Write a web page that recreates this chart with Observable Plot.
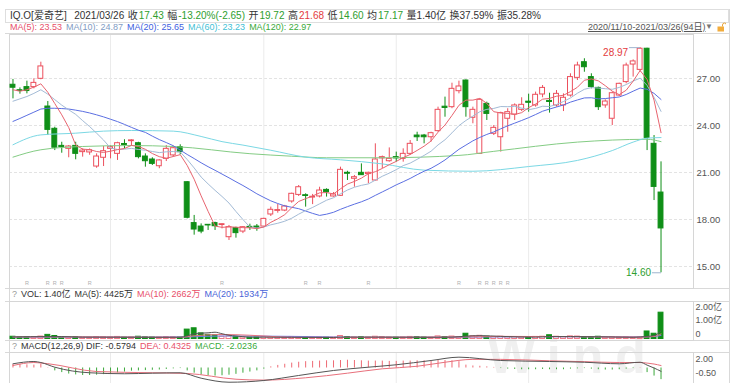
<!DOCTYPE html>
<html><head><meta charset="utf-8">
<script src="https://cdn.jsdelivr.net/npm/d3@7"></script>
<script src="https://cdn.jsdelivr.net/npm/@observablehq/plot@0.6"></script>
<style>
html,body{margin:0;padding:0;background:#fff;}
#root{position:relative;width:736px;height:383px;overflow:hidden;font-family:"Liberation Sans","Noto Sans CJK SC",sans-serif;font-size:9px;color:#333;}
.abs{position:absolute;white-space:nowrap;}
.row{position:absolute;display:flex;gap:4px;white-space:nowrap;}
.hl{position:absolute;height:1px;background:#d9d9d9;}
.vl{position:absolute;width:1px;background:#d9d9d9;}
svg{position:absolute;left:0;z-index:1;}
.v{margin-left:1px;}
</style></head><body><div id="root"></div>
<script>
// ---------- DATA ----------
const dates = ["2020-11-10","2020-11-11","2020-11-12","2020-11-13","2020-11-16","2020-11-17","2020-11-18","2020-11-19","2020-11-20","2020-11-23","2020-11-24","2020-11-25","2020-11-27","2020-11-30",
"2020-12-01","2020-12-02","2020-12-03","2020-12-04","2020-12-07","2020-12-08","2020-12-09","2020-12-10","2020-12-11","2020-12-14","2020-12-15","2020-12-16","2020-12-17","2020-12-18","2020-12-21","2020-12-22","2020-12-23","2020-12-24","2020-12-28","2020-12-29","2020-12-30","2020-12-31",
"2021-01-04","2021-01-05","2021-01-06","2021-01-07","2021-01-08","2021-01-11","2021-01-12","2021-01-13","2021-01-14","2021-01-15","2021-01-19","2021-01-20","2021-01-21","2021-01-22","2021-01-25","2021-01-26","2021-01-27","2021-01-28","2021-01-29",
"2021-02-01","2021-02-02","2021-02-03","2021-02-04","2021-02-05","2021-02-08","2021-02-09","2021-02-10","2021-02-11","2021-02-12","2021-02-16","2021-02-17","2021-02-18","2021-02-19","2021-02-22","2021-02-23","2021-02-24","2021-02-25","2021-02-26",
"2021-03-01","2021-03-02","2021-03-03","2021-03-04","2021-03-05","2021-03-08","2021-03-09","2021-03-10","2021-03-11","2021-03-12","2021-03-15","2021-03-16","2021-03-17","2021-03-18","2021-03-19","2021-03-22","2021-03-23","2021-03-24","2021-03-25","2021-03-26"];

const open = [26.60,26.25,26.45,26.45,26.98,25.21,23.79,22.70,22.51,22.70, 22.30,22.28,21.38,21.94,22.51,22.19,22.82,23.00,22.87,22.02, 21.83,21.40,21.87,22.09,22.62,20.38,17.77,17.55,17.66,17.77, 17.65,16.87,17.45,17.23,17.53,17.55,17.55,18.32,18.55,18.57, 19.15,19.57,19.55,19.40,19.47,19.89,19.47,19.51,20.98,20.60, 20.98,20.90,20.49,21.90,21.72,21.98,21.87,22.19,23.36,23.36, 23.25,23.64,25.20,25.17,26.19,26.87,24.49,22.19,25.38,23.47, 23.25,24.43,24.70,25.00,25.52,25.28,25.98,25.57,25.28,25.28, 25.91,27.04,28.04,27.09,26.40,25.28,24.43,25.91,26.77,27.89, 27.55,28.90,22.83,19.72];
const high = [26.94,26.40,26.83,26.98,28.04,25.53,23.89,22.93,22.72,22.93, 22.51,22.50,22.19,22.66,22.72,22.93,23.09,23.09,22.93,22.19, 21.94,21.81,22.72,22.68,22.77,20.42,18.26,17.72,17.68,17.83, 17.72,17.62,17.51,17.55,17.70,17.68,18.08,18.79,18.96,18.90, 19.68,20.17,19.64,19.60,20.06,19.96,19.72,21.34,21.08,20.81, 21.55,21.02,22.83,22.05,22.57,22.30,22.51,23.04,23.57,23.43, 23.57,25.17,25.81,26.70,26.83,26.91,25.17,25.70,25.49,24.00, 24.85,25.07,25.38,25.77,26.00,26.13,26.55,26.06,26.23,26.02, 27.30,28.04,28.26,27.30,26.45,25.64,26.13,26.70,27.98,28.19, 28.97,28.93,23.36,21.68];
const low = [25.70,26.00,26.02,26.34,26.92,23.36,22.40,22.23,21.94,21.81, 21.98,22.10,21.27,21.38,21.87,21.77,22.51,22.66,21.87,21.34, 21.45,21.24,21.70,21.98,22.13,18.04,17.00,17.09,17.30,17.30, 17.40,16.66,16.81,17.10,17.30,17.25,17.50,18.19,18.40,18.50, 19.04,19.47,18.79,18.95,19.38,19.43,19.43,19.47,20.49,20.06, 20.81,20.28,20.45,21.25,21.66,21.66,21.66,22.09,22.98,22.83, 22.94,23.57,24.53,25.07,26.02,24.53,24.11,22.15,24.32,23.36, 22.30,23.57,24.32,24.89,24.85,25.17,25.77,24.79,25.17,24.89, 25.81,26.87,27.40,26.34,24.96,25.10,24.00,25.85,26.66,27.09, 27.40,22.40,19.21,14.60];
const close = [26.41,26.20,26.20,26.72,27.77,23.72,22.58,22.62,22.66,22.19, 22.40,22.42,22.02,22.36,22.62,22.87,22.76,23.05,21.98,21.72, 21.55,21.77,22.51,22.55,22.30,18.11,17.36,17.23,17.62,17.57, 17.70,17.51,17.13,17.51,17.48,17.45,18.04,18.62,18.60,18.83, 19.64,20.06,19.50,19.45,19.85,19.74,19.60,21.17,20.92,20.70, 20.83,20.98,21.83,21.98,21.87,21.90,22.19,22.83,23.25,23.25, 23.51,25.00,25.12,26.34,26.49,25.17,25.00,25.64,24.74,23.85, 24.79,24.85,25.28,25.32,25.45,25.96,26.40,25.50,26.02,25.77, 27.09,27.83,27.72,26.45,25.17,25.53,26.06,26.66,27.83,28.09, 28.90,23.21,20.08,17.43];
// volume, 亿 shares
const volume = [0.12,0.09,0.10,0.09,0.13,0.22,0.16,0.08,0.09,0.10, 0.07,0.07,0.10,0.09,0.08,0.11,0.07,0.08,0.12,0.09, 0.08,0.08,0.10,0.09,0.08,0.50,0.57,0.30,0.22,0.20, 0.12,0.14,0.10,0.08,0.07,0.08,0.10,0.09,0.08,0.07, 0.10,0.09,0.08,0.07,0.08,0.07,0.06,0.16,0.10,0.08, 0.09,0.08,0.12,0.10,0.08,0.07,0.08,0.11,0.10,0.08, 0.07,0.14,0.10,0.13,0.10,0.28,0.15,0.17,0.12,0.10, 0.12,0.09,0.10,0.08,0.09,0.11,0.12,0.20,0.12,0.10, 0.14,0.13,0.10,0.10,0.12,0.08,0.10,0.08,0.09,0.07, 0.08,0.40,0.28,1.40];

const ma5 = [26.28,26.19,26.28,26.45,26.66,26.12,25.40,24.68,23.87,22.75, 22.49,22.46,22.34,22.28,22.36,22.46,22.53,22.73,22.66,22.48, 22.21,22.01,21.91,22.02,22.14,21.45,20.57,19.51,18.52,17.58, 17.50,17.53,17.51,17.48,17.47,17.42,17.52,17.82,18.04,18.31, 18.75,19.15,19.33,19.50,19.70,19.72,19.63,19.96,20.26,20.43, 20.64,20.92,21.05,21.26,21.50,21.71,21.95,22.15,22.41,22.68, 23.01,23.57,24.03,24.64,25.29,25.62,25.62,25.73,25.41,24.88, 24.80,24.77,24.70,24.82,25.14,25.37,25.68,25.73,25.87,25.93, 26.16,26.44,26.89,26.97,26.85,26.54,26.19,25.97,26.25,26.83, 27.51,26.94,25.62,23.54];
const ma10 = [25.55,25.70,25.85,26.05,26.28,26.00,25.65,25.30,25.00,24.71, 24.31,23.93,23.51,23.07,22.56,22.47,22.49,22.54,22.47,22.42, 22.34,22.27,22.32,22.34,22.31,21.83,21.29,20.71,20.27,19.86, 19.47,19.05,18.51,18.00,17.52,17.46,17.52,17.66,17.76,17.89, 18.08,18.34,18.57,18.77,19.00,19.23,19.39,19.64,19.88,20.06, 20.18,20.27,20.51,20.76,20.96,21.18,21.44,21.60,21.84,22.09, 22.36,22.76,23.09,23.53,23.99,24.32,24.60,24.88,25.03,25.09, 25.21,25.20,25.22,25.11,25.01,25.09,25.23,25.21,25.34,25.53, 25.76,26.06,26.31,26.42,26.39,26.35,26.31,26.43,26.61,26.84, 27.02,26.56,25.80,24.90];
const ma20 = [24.26,24.45,24.65,24.85,25.05,25.10,25.10,25.08,25.05,24.98, 24.90,24.80,24.68,24.55,24.40,24.25,24.07,23.88,23.70,23.56, 23.32,23.10,22.91,22.71,22.43,22.15,21.89,21.62,21.37,21.14, 20.90,20.66,20.41,20.17,19.91,19.64,19.41,19.19,19.02,18.87, 18.78,18.69,18.54,18.39,18.26,18.34,18.46,18.65,18.82,18.98, 19.13,19.31,19.54,19.76,19.98,20.21,20.41,20.62,20.86,21.08, 21.27,21.52,21.80,22.14,22.48,22.75,23.02,23.24,23.43,23.59, 23.79,23.98,24.15,24.32,24.50,24.70,24.91,25.05,25.18,25.31, 25.49,25.63,25.76,25.77,25.70,25.72,25.77,25.82,25.98,26.19, 26.39,26.31,26.05,25.66];
// [day index, value] read along the smooth long averages
const ma60 = [[0,22.77],[4,23.40],[9,23.51],[13,23.64],[17,23.68],[23,23.64],[27,23.30],[30,22.97],[33,22.75],[37,22.42],[42,21.98],[47,21.81],[53,21.55],[59,21.15],[66,21.08],[74,21.38],[81,21.77],[86,22.40],[89,22.94],[91,23.19],[93,23.23]];
const ma120 = [[0,21.98],[4,22.45],[10,22.66],[17,22.72],[23,22.66],[34,22.20],[40,22.04],[45,21.94],[53,21.94],[64,22.09],[69,22.35],[81,22.94],[91,23.12],[93,22.97]];
const volMa5 = [[0,0.11],[5,0.13],[7,0.13],[10,0.10],[20,0.09],[24,0.09],[25,0.17],[26,0.27],[27,0.31],[28,0.33],[29,0.36],[30,0.28],[31,0.20],[32,0.16],[34,0.10],[40,0.09],[46,0.08],[47,0.10],[52,0.10],[60,0.09],[63,0.10],[65,0.15],[67,0.18],[70,0.14],[75,0.10],[77,0.13],[80,0.13],[84,0.12],[89,0.09],[91,0.14],[92,0.18],[93,0.44]];
const volMa10 = [[0,0.11],[10,0.11],[24,0.09],[26,0.17],[30,0.24],[34,0.20],[36,0.16],[40,0.09],[50,0.09],[65,0.11],[70,0.14],[77,0.13],[85,0.11],[90,0.10],[92,0.14],[93,0.27]];
const volMa20 = [[0,0.10],[20,0.10],[25,0.11],[30,0.16],[40,0.14],[46,0.11],[50,0.09],[65,0.10],[75,0.12],[90,0.11],[92,0.13],[93,0.19]];
const macdHist = [0.6,0.6,0.55,0.5,0.7,0.05,-0.5,-0.8,-1.05,-1.2, -1.3,-1.3,-1.25,-1.15,-1.0,-0.85,-0.7,-0.55,-0.5,-0.45, -0.4,-0.35,-0.25,-0.15,-0.1,-0.5,-0.9,-1.2,-1.35,-1.4, -1.35,-1.25,-1.1,-0.9,-0.7,-0.5,-0.2,0.2,0.45,0.65, 0.85,1.0,1.1,1.15,1.2,1.25,1.25,1.3,1.35,1.3, 1.25,1.2,1.2,1.2,1.15,1.15,1.2,1.2,1.25,1.25, 1.2,1.3,1.3,1.25,1.1,0.5,0.35,0.3,0.2,0.1, -0.1,-0.2,-0.25,-0.3,-0.3,-0.3,-0.25,-0.3,-0.3,-0.3, -0.2,-0.15,-0.1,-0.2,-0.3,-0.35,-0.35,-0.3,-0.2,-0.1, 0.05,-0.8,-1.4,-2.02];
const dif = [[0,0.73],[3,1.13],[4,0.95],[6,0.14],[11,-0.83],[16,-1.0],[20,-0.9],[24,-0.83],[27,-1.77],[31,-2.47],[36,-2.17],[41,-1.30],[46,-0.43],[51,0.14],[55,0.56],[60,1.30],[64,1.88],[70,1.30],[77,1.13],[82,1.0],[87,0.73],[90,1.0],[91,0.5],[92,0.0],[93,-0.58]];
const dea = [[0,0.43],[3,0.95],[5,0.75],[12,-0.61],[20,-0.83],[25,-0.95],[32,-1.95],[36,-2.1],[42,-1.7],[48,-0.9],[53,-0.14],[58,0.3],[62,1.0],[66,1.5],[70,1.5],[77,1.25],[82,1.1],[87,0.95],[90,0.95],[91,0.85],[92,0.69],[93,0.43]];
const rMarks = [2,5,6,7,11,30,42,44,51,64,67,68,69,70,71];
const priceTicks = [15,18,21,24,27];
const volTicks = [2,1,0];
const macdTicks = [2,-0.5];

// ---------- LAYOUT / STYLE ----------
const FONT = '"Liberation Sans","Noto Sans CJK SC",sans-serif';
const RED = "#ec4f5c", GREEN = "#0f8f17", TXTGREEN = "#2e9e2e", TXTRED = "#e33b40";
const C5 = "#e8646f", C10 = "#a3bbd6", C20 = "#5b6fe2", C60 = "#7bd8e4", C120 = "#84cc84";
const XDOM = [-0.5, 97.66];
const HW = 0.35;
const root = document.getElementById("root");

const candles = dates.map((date, i) => ({i, date, o: open[i], h: high[i], l: low[i], c: close[i], v: volume[i], up: close[i] > open[i]}));
const ups = candles.filter(d => d.up), downs = candles.filter(d => !d.up);
const monthStarts = dates.map((d, i) => i).filter(i => i > 0 && dates[i].slice(0, 7) !== dates[i - 1].slice(0, 7));
const ser = arr => arr.map((v, i) => ({i, v}));
const hiI = d3.maxIndex(high), loI = d3.minIndex(low);

function panel(h, ydom, marks) {
  return Plot.plot({
    width: 736, height: h, marginLeft: 9, marginRight: 43, marginTop: 0, marginBottom: 0,
    x: {domain: XDOM, axis: null}, y: {domain: ydom, axis: null},
    style: {background: "transparent", fontFamily: FONT, color: "#555", overflow: "visible"},
    marks
  });
}
const grid = () => Plot.ruleX(monthStarts, {x: d => d, stroke: "#ebebeb"});

// main price panel
const main = panel(254, [13.596, 29.808], [
  Plot.ruleY(priceTicks, {y: d => d, stroke: "#e3e3e3", strokeDasharray: "3,2"}),
  grid(),
  Plot.frame({stroke: "#d6d6d6"}),
  Plot.ruleX(ups, {x: "i", y1: "l", y2: "h", stroke: RED}),
  Plot.ruleX(downs, {x: "i", y1: "l", y2: "h", stroke: GREEN}),
  Plot.rect(ups, {x1: d => d.i - HW, x2: d => d.i + HW, y1: "o", y2: "c", fill: "#fff", stroke: RED}),
  Plot.rect(downs, {x1: d => d.i - HW, x2: d => d.i + HW, y1: "o", y2: "c", fill: GREEN, stroke: GREEN}),
  Plot.line(ma120, {x: d => d[0], y: d => d[1], stroke: C120, strokeWidth: 1, curve: "monotone-x"}),
  Plot.line(ma60, {x: d => d[0], y: d => d[1], stroke: C60, strokeWidth: 1, curve: "monotone-x"}),
  Plot.line(ser(ma20), {x: "i", y: "v", stroke: C20, strokeWidth: 1}),
  Plot.line(ser(ma10), {x: "i", y: "v", stroke: C10, strokeWidth: 1}),
  Plot.line(ser(ma5), {x: "i", y: "v", stroke: C5, strokeWidth: 1}),
  Plot.link([{i: hiI, v: high[hiI]}], {x1: d => d.i - 1.6, x2: "i", y1: "v", y2: "v", stroke: "#9fb4cf"}),
  Plot.text([{i: hiI, v: high[hiI]}], {x: "i", y: "v", text: d => d.v.toFixed(2), textAnchor: "end", dx: -12, dy: 5, fill: TXTRED, fontSize: 10}),
  Plot.link([{i: loI, v: low[loI]}], {x1: d => d.i - 1.3, x2: "i", y1: "v", y2: "v", stroke: "#9fb4cf"}),
  Plot.text([{i: loI, v: low[loI]}], {x: "i", y: "v", text: d => d.v.toFixed(2), textAnchor: "end", dx: -10, dy: 0, fill: TXTGREEN, fontSize: 10}),
  Plot.text(rMarks, {x: d => d, frameAnchor: "bottom", dy: -4, text: () => "R", fontSize: 5.5, fill: "#b0b0b0"}),
  Plot.axisY(priceTicks, {anchor: "right", tickSize: 0, tickPadding: 3, tickFormat: d3.format(".2f"), fontSize: 9.5})
]);
main.style.top = "34px";

// volume panel
const vol = panel(39, [-0.0798, 1.9947], [
  grid(),
  Plot.frame({stroke: "#d6d6d6"}),
  Plot.rect(ups, {x1: d => d.i - HW, x2: d => d.i + HW, y1: 0, y2: "v", fill: "#fff", stroke: "#ef7a86"}),
  Plot.rect(downs, {x1: d => d.i - HW, x2: d => d.i + HW, y1: 0, y2: "v", fill: GREEN, stroke: GREEN}),
  Plot.line(volMa20, {x: d => d[0], y: d => d[1], stroke: "#6a7ee6", strokeWidth: 1, curve: "monotone-x"}),
  Plot.line(volMa10, {x: d => d[0], y: d => d[1], stroke: "#e8707c", strokeWidth: 1, curve: "monotone-x"}),
  Plot.line(volMa5, {x: d => d[0], y: d => d[1], stroke: "#555", strokeWidth: 1, curve: "monotone-x"}),
  Plot.text(volTicks.filter(d => d === 2), {y: d => d, frameAnchor: "right", textAnchor: "start", dx: 2, dy: 6, text: d => d.toFixed(2) + "亿", fontSize: 9, fill: "#555"}),
  Plot.text(volTicks.filter(d => d === 1), {y: d => d, frameAnchor: "right", textAnchor: "start", dx: 2, dy: 0, text: d => d.toFixed(2) + "亿", fontSize: 9, fill: "#555"}),
  Plot.text(volTicks.filter(d => d === 0), {y: d => d, frameAnchor: "right", textAnchor: "start", dx: 2, dy: -5, text: () => "0", fontSize: 9, fill: "#555"})
]);
vol.style.top = "301px";

// MACD panel
const macdRows = ser(macdHist);
const macd = panel(31, [-2.691, 2.691], [
  grid(),
  Plot.frame({stroke: "#d6d6d6"}),
  Plot.ruleX(macdRows.filter(d => d.v >= 0), {x: "i", y1: 0, y2: "v", stroke: "#ee6a74"}),
  Plot.ruleX(macdRows.filter(d => d.v < 0), {x: "i", y1: 0, y2: "v", stroke: "#3aa83a"}),
  Plot.line(dea, {x: d => d[0], y: d => d[1], stroke: "#e8707c", strokeWidth: 1, curve: "monotone-x"}),
  Plot.line(dif, {x: d => d[0], y: d => d[1], stroke: "#555", strokeWidth: 1, curve: "monotone-x"}),
  Plot.text(macdTicks, {y: d => d, frameAnchor: "right", textAnchor: "start", dx: 2, dy: 2.3, text: d => d.toFixed(2), fontSize: 9, fill: "#555"})
]);
macd.style.top = "352px";

// ---------- HTML chrome ----------
function el(cls, css, html) { const e = document.createElement("div"); e.className = cls; e.style.cssText = css; if (html != null) e.innerHTML = html; root.appendChild(e); return e; }
el("abs", "left:488px;top:331px;font:bold 50px 'Liberation Sans',sans-serif;letter-spacing:12px;color:#f0f0f0;z-index:0;line-height:1;", "Wind");
el("abs", "left:5px;top:9px;width:722px;height:12px;border:1px solid #dedede;", "");
const g = s => `<span class="v" style="color:${TXTGREEN}">${s}</span>`, r = s => `<span class="v" style="color:${TXTRED}">${s}</span>`;
const row1 = ["IQ.O[爱奇艺]", "2021/03/26", "收" + g("17.43"), "幅" + g("-13.20%(-2.65)"), "开" + g("19.72"), "高" + r("21.68"), "低" + g("14.60"), "均" + g("17.17"), "量1.40亿", "换37.59%", "振35.28%"];
el("row", "left:10px;top:9px;line-height:13px;font-size:10px;color:#333;gap:3.5px;",
  row1.map((t, k) => `<span style="${k === 1 ? "margin-left:4px" : ""}">${t}</span>`).join(""));
el("row", "left:10px;top:21px;line-height:12px;font-size:9px;",
  `<span style="color:#e8506a">MA(5): 23.53</span><span style="color:#7f9cc4">MA(10): 24.87</span><span style="color:#4060e0">MA(20): 25.65</span><span style="color:#3fbfd6">MA(60): 23.23</span><span style="color:#3aaa3a">MA(120): 22.97</span>`);
el("abs", "left:588px;top:21px;line-height:12px;font-size:9px;color:#555;text-decoration:underline;", "2020/11/10-2021/03/26(94日)");
el("abs", "left:705px;top:21px;line-height:12px;font-size:8px;color:#777;", "▼");
el("abs", "left:717px;top:22px;", `<svg width="9" height="10" style="position:static"><path d="M5.5 4.5 V3 a2 2 0 0 1 4 0" stroke="#e9a53a" fill="none"/><rect x="0.5" y="4.5" width="6.5" height="5" fill="#f2ac3c"/></svg>`);
[33, 288, 301, 340, 352].forEach(y => el("hl", `left:5px;top:${y}px;width:725px;`));
el("vl", "left:729px;top:9px;height:374px;");
el("vl", "left:9px;top:288px;height:13px;"); el("vl", "left:9px;top:340px;height:12px;");
el("row", "left:12px;top:288px;line-height:13px;font-size:9px;",
  `<span style="color:#999">?</span><span>VOL: 1.40亿</span><span>MA(5): 4425万</span><span style="color:#e8506a">MA(10): 2662万</span><span style="color:#4a64d8">MA(20): 1934万</span>`);
el("row", "left:12px;top:340px;line-height:12px;font-size:9px;",
  `<span style="color:#999">?</span><span>MACD(12,26,9) DIF: -0.5794</span><span style="color:#e8506a">DEA: 0.4325</span><span style="color:#3aaa3a">MACD: -2.0236</span>`);
root.appendChild(main); root.appendChild(vol); root.appendChild(macd);
</script></body></html>
